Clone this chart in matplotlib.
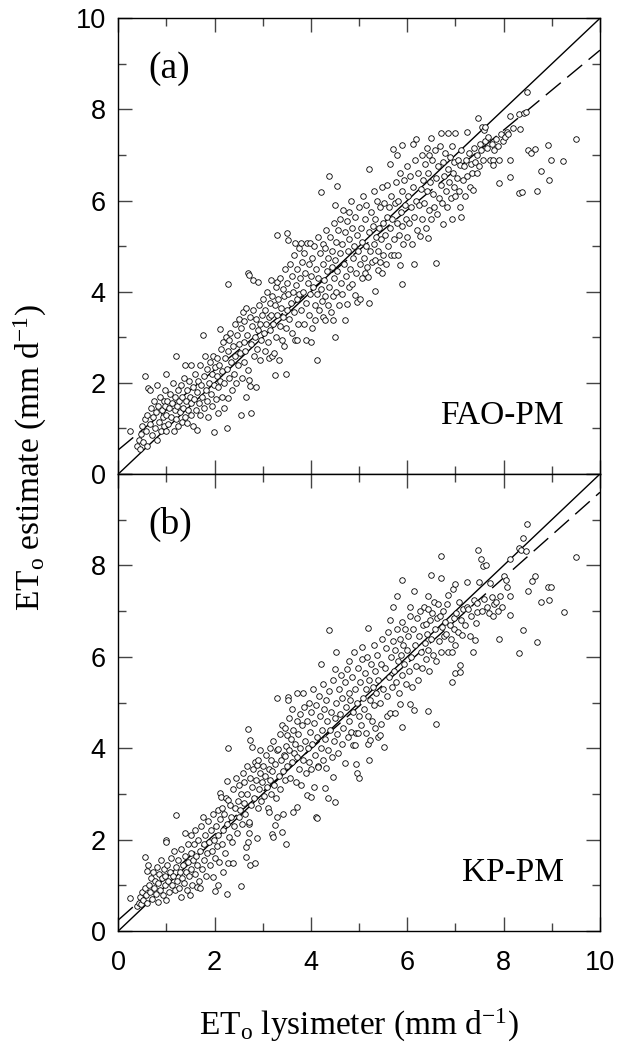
import numpy as np
import matplotlib.pyplot as plt
from matplotlib.ticker import MultipleLocator

plt.rcParams['font.family'] = 'Liberation Sans'
plt.rcParams['mathtext.fontset'] = 'custom'
plt.rcParams['mathtext.rm'] = 'Liberation Serif'
plt.rcParams['mathtext.it'] = 'Liberation Serif:italic'

# (lysimeter, estimate) pairs
fao_pts = [
    (0.24,0.95),(0.38,0.62),(0.42,0.75),(0.45,0.55),(0.48,0.88),(0.5,1.05),(0.52,0.7),(0.55,1.2),(0.56,2.15),(0.58,0.95),(0.6,1.3),(0.6,0.62),
    (0.62,1.88),(0.66,1.84),(0.65,1.1),(0.68,1.45),(0.7,0.85),(0.72,1.25),(0.75,1.6),(0.76,1.0),(0.78,1.35),(0.8,1.95),(0.8,0.75),(0.82,1.5),
    (0.85,1.15),(0.86,1.7),(0.88,0.95),(0.9,1.4),(0.92,1.25),(0.94,1.6),(0.95,1.05),(0.98,1.85),(0.99,0.94),(1.0,2.2),(1.0,1.3),(0.97,1.5),
    (1.02,1.6),(1.04,1.1),(1.06,1.45),(1.08,1.75),(1.1,1.25),(1.12,1.55),(1.14,2.0),(1.15,0.95),(1.17,1.4),(1.18,1.7),(1.2,2.58),(1.2,1.2),
    (1.22,1.5),(1.24,1.85),(1.25,1.05),(1.27,1.6),(1.28,1.35),(1.3,1.95),(1.32,1.15),(1.33,1.7),(1.35,1.45),(1.36,2.1),(1.38,2.4),(1.38,1.25),
    (1.4,1.6),(1.42,1.85),(1.43,1.12),(1.45,1.4),(1.47,2.05),(1.48,1.7),(1.5,1.3),(1.52,2.4),(1.52,1.55),
    (1.55,1.9),(1.56,1.05),(1.58,1.65),(1.6,2.2),(1.62,1.4),(1.63,0.97),(1.64,1.8),(1.66,2.05),(1.68,1.55),(1.7,2.4),(1.7,1.3),(1.72,1.95),
    (1.74,1.7),(1.76,3.04),(1.78,2.15),(1.78,1.45),(1.8,2.6),(1.82,1.85),(1.84,2.3),(1.85,1.6),(1.86,1.25),(1.88,2.0),(1.9,2.45),(1.92,1.75),
    (1.94,2.2),(1.95,1.5),(1.97,2.6),(1.99,0.92),(1.98,1.95),(2.0,2.35),
    (2.02,1.65),(2.04,2.15),(2.05,2.55),(2.07,1.33),(2.08,1.9),(2.1,2.4),(2.11,3.19),(2.12,2.05),(2.14,2.75),(2.15,1.7),(2.16,2.25),(2.18,2.9),
    (2.2,2.0),(2.2,1.45),(2.22,2.55),(2.24,3.0),(2.25,1.0),(2.25,2.3),(2.27,1.66),(2.28,4.18),(2.28,2.7),(2.3,2.93),(2.3,2.1),(2.32,3.1),
    (2.34,2.45),(2.36,1.85),(2.38,2.8),(2.4,2.2),(2.42,3.3),(2.42,2.6),(2.44,2.0),(2.46,3.05),(2.48,2.4),(2.5,2.85),(2.54,1.3),(2.5,3.4),
    (2.52,2.65),(2.55,3.2),(2.56,2.1),(2.58,3.55),(2.6,2.9),(2.6,2.45),(2.62,3.35),(2.64,2.7),(2.65,3.65),(2.66,1.69),(2.68,3.05),(2.7,4.4),
    (2.72,4.36),(2.7,2.28),(2.72,2.06),(2.74,1.93),(2.75,1.33),(2.74,3.45),(2.76,2.85),(2.78,3.25),(2.8,4.25),(2.8,3.6),(2.82,2.6),(2.84,3.0),
    (2.85,1.9),(2.86,3.4),(2.88,2.75),(2.9,4.22),(2.9,3.15),(2.92,3.7),(2.94,2.5),(2.95,3.3),(2.97,2.95),(2.99,3.5),
    (3.0,3.85),(3.02,3.1),(3.04,2.7),(3.05,3.6),(3.07,3.3),(3.08,4.0),(3.1,2.9),(3.12,3.45),(3.12,2.55),(3.14,3.75),(3.15,3.15),(3.17,4.25),
    (3.18,3.5),(3.2,2.6),(3.2,3.9),(3.22,3.3),(3.24,2.65),(3.25,2.17),(3.25,3.7),(3.27,4.1),(3.28,3.0),(3.29,5.24),(3.3,4.22),(3.3,3.5),
    (3.32,3.85),(3.34,2.5),(3.35,3.25),(3.36,4.3),(3.38,3.65),(3.4,2.95),(3.41,4.05),(3.43,3.45),(3.45,2.8),(3.45,3.9),(3.47,4.5),(3.48,2.19),
    (3.48,3.2),(3.5,5.28),(3.5,4.2),(3.5,3.6),
    (3.53,5.13),(3.53,3.95),(3.55,3.4),(3.56,4.6),(3.58,3.75),(3.6,4.35),(3.6,3.1),(3.62,4.0),(3.64,4.8),(3.65,3.55),(3.66,2.94),(3.67,5.06),
    (3.68,4.15),(3.7,3.85),(3.72,4.5),(3.72,2.94),(3.74,3.3),(3.75,4.95),(3.76,3.95),(3.78,4.3),(3.8,5.06),(3.8,3.6),(3.82,4.65),(3.84,4.0),
    (3.85,3.3),(3.86,4.85),(3.88,4.4),(3.9,3.75),(3.9,2.94),(3.92,5.06),(3.93,4.2),(3.95,3.5),(3.96,4.6),(3.98,5.06),(3.98,3.95),(4.0,2.9),(4.0,4.35),
    (4.02,3.2),(4.03,4.75),(4.05,4.1),(4.07,5.0),(4.08,3.39),(4.08,3.7),(4.1,4.5),(4.12,2.5),(4.12,3.95),(4.14,5.2),(4.15,4.3),(4.17,3.6),
    (4.18,4.85),(4.2,6.19),(4.2,4.05),(4.22,3.8),(4.24,4.6),(4.25,5.05),(4.26,3.45),(4.28,4.25),(4.29,3.39),(4.3,4.95),(4.3,3.9),(4.32,5.35),
    (4.34,4.45),(4.35,3.7),(4.36,4.75),(4.38,6.53),(4.38,4.1),(4.4,5.2),(4.41,3.55),(4.43,4.55),(4.44,4.9),(4.45,3.9),(4.46,3.39),(4.47,5.5),
    (4.48,4.3),(4.5,5.9),(4.5,3.01),(4.5,4.7),
    (4.52,5.1),(4.53,4.0),(4.54,6.32),(4.55,4.45),(4.57,5.35),(4.58,3.7),(4.6,4.85),(4.6,5.6),(4.62,4.2),(4.64,5.05),(4.65,3.95),(4.66,5.8),
    (4.68,4.6),(4.7,5.3),(4.71,3.38),(4.72,4.35),(4.74,3.74),(4.75,5.55),(4.76,4.9),(4.78,4.1),(4.8,5.75),(4.8,5.15),(4.82,4.5),(4.84,6.0),
    (4.85,4.18),(4.86,5.4),(4.88,4.75),(4.9,5.0),(4.92,3.93),(4.92,5.65),(4.94,4.4),(4.95,3.78),(4.96,5.25),(4.98,4.9),(5.0,5.85),(5.02,3.85),(5.02,4.6),
    (5.04,5.4),(5.05,4.3),(5.07,5.1),(5.08,6.1),(5.1,4.75),(5.12,4.4),(5.12,5.6),(5.14,5.0),(5.15,5.9),(5.17,4.55),(5.19,4.33),(5.2,6.69),
    (5.2,5.3),(5.21,3.76),(5.22,4.9),(5.24,5.75),(5.26,4.66),(5.28,5.45),(5.3,6.2),(5.3,5.05),(5.32,4.7),(5.33,4.02),(5.34,5.6),(5.36,5.2),
    (5.38,6.0),(5.4,4.47),(5.4,4.9),(5.42,5.4),(5.43,4.66),(5.44,5.85),(5.46,5.15),(5.47,4.41),(5.48,6.3),(5.5,5.5),(5.5,4.8),
    (5.52,5.95),(5.54,5.25),(5.55,4.6),(5.57,5.65),(5.58,6.35),(5.6,5.0),(5.62,5.85),(5.64,6.81),(5.64,5.4),(5.66,4.8),(5.67,6.1),(5.69,5.6),
    (5.71,7.14),(5.72,4.8),(5.72,5.15),(5.74,5.95),(5.76,6.4),(5.78,7.0),(5.78,5.5),(5.8,4.8),(5.8,6.0),(5.82,5.25),(5.84,6.6),(5.85,4.58),
    (5.86,5.75),(5.88,7.21),(5.88,4.18),(5.9,6.2),(5.9,5.45),(5.92,5.05),(5.94,6.45),(5.96,5.9),(5.98,5.6),(6.0,6.75),(6.0,5.2),
    (6.02,6.1),(6.04,5.5),(6.06,6.55),(6.08,5.85),(6.1,5.05),(6.12,7.25),(6.12,6.3),(6.13,4.6),(6.14,5.65),(6.16,6.9),(6.18,6.0),(6.19,7.36),
    (6.2,5.35),(6.22,6.6),(6.24,5.9),(6.26,5.23),(6.28,6.25),(6.3,7.0),(6.3,5.6),(6.32,6.45),(6.34,5.95),(6.36,6.8),(6.38,5.4),(6.4,7.15),
    (6.4,6.2),(6.42,6.6),(6.43,5.17),(6.45,5.8),(6.46,7.0),(6.48,6.4),(6.49,7.38),(6.5,5.6),
    (6.52,6.9),(6.54,6.15),(6.56,5.85),(6.58,7.1),(6.59,4.63),(6.6,6.5),(6.62,5.7),(6.64,6.75),(6.66,6.05),(6.67,7.2),(6.69,7.48),(6.7,6.35),
    (6.72,5.95),(6.74,6.85),(6.75,5.48),(6.76,6.55),(6.78,7.05),(6.8,6.2),(6.82,5.85),(6.84,6.7),(6.85,7.49),(6.86,6.4),(6.88,6.95),(6.9,6.05),
    (6.92,7.2),(6.93,5.59),(6.94,6.6),(6.96,6.3),(6.98,6.85),(7.0,7.49),(7.0,6.1),
    (7.03,6.5),(7.05,6.9),(7.08,6.2),(7.09,6.78),(7.1,5.86),(7.12,5.64),(7.12,7.1),(7.15,6.45),(7.18,6.75),(7.2,6.1),(7.23,7.5),(7.22,6.9),
    (7.25,6.55),(7.28,7.05),(7.3,6.3),(7.32,6.8),(7.35,6.6),(7.36,6.23),(7.38,7.15),(7.4,6.85),(7.44,6.6),(7.44,7.0),(7.46,7.82),(7.48,6.75),(7.5,7.25),
    (7.52,7.1),(7.55,7.62),(7.58,6.9),(7.6,7.54),(7.61,7.62),(7.62,7.3),(7.65,7.15),(7.68,7.4),(7.72,6.89),(7.75,7.25),(7.77,6.89),(7.78,6.78),
    (7.8,7.1),(7.85,7.35),(7.88,7.2),(7.91,6.9),(7.91,6.39),(7.95,7.45),(7.98,7.3),
    (8.02,7.4),(8.06,7.5),(8.1,7.45),(8.13,7.85),(8.14,6.52),(8.14,6.89),(8.2,7.6),(8.32,7.9),(8.32,6.16),(8.34,7.57),(8.39,6.18),(8.42,7.93),
    (8.46,7.95),(8.49,8.38),(8.5,7.12),(8.56,7.04),(8.66,7.14),(8.7,6.2),(8.77,6.65),(8.93,7.22),(8.94,6.45),(8.98,6.9),(9.24,6.87),(9.5,7.36),
]

kp_pts = [
    (0.24,0.73),(0.38,0.55),(0.42,0.62),(0.45,0.75),(0.48,0.58),(0.5,0.85),(0.52,0.68),(0.55,1.63),(0.56,0.95),(0.58,0.78),(0.59,1.32),(0.6,0.62),
    (0.62,1.44),(0.64,1.0),(0.66,0.85),(0.68,1.15),(0.7,0.7),(0.72,1.3),(0.74,0.95),(0.76,1.1),(0.78,0.82),(0.8,1.4),(0.82,1.05),(0.83,0.64),
    (0.85,1.25),(0.87,0.9),(0.89,1.55),(0.9,1.15),(0.92,0.78),(0.94,1.35),(0.96,1.0),(0.98,1.2),(1.0,1.99),(1.0,1.95),(1.0,0.68),
    (1.02,1.45),(1.04,1.1),(1.06,0.85),(1.08,1.3),(1.1,1.6),(1.12,1.0),(1.14,1.2),(1.16,1.75),(1.18,0.9),(1.2,2.54),(1.2,1.4),(1.22,1.1),
    (1.24,1.55),(1.26,0.95),(1.28,1.3),(1.3,1.8),(1.31,0.75),(1.32,1.15),(1.34,1.45),(1.36,1.05),(1.38,2.14),(1.38,1.65),(1.4,1.3),(1.42,0.9),
    (1.44,1.9),(1.45,1.5),(1.47,1.2),(1.49,0.79),(1.5,1.7),(1.52,2.1),(1.52,1.35),
    (1.54,1.0),(1.55,1.55),(1.57,1.9),(1.59,1.25),(1.6,2.2),(1.62,1.65),(1.63,0.96),(1.64,1.45),(1.66,2.0),(1.68,1.1),(1.7,0.93),(1.7,1.75),
    (1.72,2.3),(1.74,1.35),(1.76,2.5),(1.77,1.9),(1.78,1.55),(1.8,2.1),(1.82,1.2),(1.84,1.7),(1.86,2.4),(1.88,1.95),(1.9,1.45),(1.92,2.2),
    (1.94,1.75),(1.96,2.55),(1.97,1.19),(1.98,2.0),(2.0,0.88),(2.0,1.6),
    (2.02,2.3),(2.04,1.85),(2.06,2.65),(2.08,1.01),(2.08,2.1),(2.1,1.5),(2.11,3.01),(2.12,2.45),(2.14,2.94),(2.15,1.9),(2.16,2.7),(2.18,1.3),
    (2.18,2.2),(2.2,2.55),(2.22,1.7),(2.24,2.9),(2.25,0.8),(2.25,3.29),(2.26,2.35),(2.28,4.0),(2.28,2.87),(2.28,1.49),(2.3,2.05),(2.32,2.76),
    (2.34,2.5),(2.36,1.95),(2.38,3.1),(2.39,1.49),(2.4,2.3),(2.42,2.7),(2.44,3.35),(2.46,2.15),(2.48,2.85),(2.5,2.5),(2.5,3.2),
    (2.52,2.65),(2.54,0.99),(2.55,3.0),(2.56,2.35),(2.58,3.45),(2.6,2.8),(2.62,3.25),(2.64,2.55),(2.66,1.63),(2.66,1.84),(2.67,3.6),(2.68,3.0),
    (2.7,4.41),(2.7,1.95),(2.71,2.15),(2.71,2.34),(2.72,2.39),(2.73,4.18),(2.73,1.44),(2.74,3.35),(2.76,2.75),(2.77,4.03),(2.78,3.15),(2.8,3.55),
    (2.82,2.9),(2.84,1.48),(2.84,3.7),(2.86,3.3),(2.87,2.03),(2.88,3.63),(2.9,3.74),(2.9,2.7),(2.92,3.1),(2.94,3.96),(2.95,3.45),(2.97,2.85),(2.99,3.25),
    (3.0,3.6),(3.02,2.95),(3.04,3.4),(3.06,3.85),(3.08,3.15),(3.1,2.7),(3.12,2.6),(3.12,3.55),(3.14,4.0),(3.15,3.3),(3.17,3.75),(3.18,3.0),
    (3.19,2.13),(3.2,3.5),(3.22,2.06),(3.22,4.15),(3.24,3.2),(3.25,2.32),(3.26,3.65),(3.28,2.9),(3.3,5.09),(3.3,3.95),(3.3,2.5),(3.32,3.98),
    (3.33,3.4),(3.35,4.3),(3.36,3.1),(3.38,3.75),(3.39,2.17),(3.4,4.5),(3.41,3.5),(3.42,2.55),(3.44,3.85),(3.46,4.44),(3.46,3.84),(3.47,3.3),
    (3.48,1.9),(3.48,4.05),(3.5,4.29),(3.5,3.6),
    (3.52,5.13),(3.53,5.05),(3.54,3.95),(3.55,4.65),(3.56,3.35),(3.58,4.2),(3.6,3.7),(3.61,4.85),(3.62,4.4),(3.63,2.61),(3.64,3.9),(3.66,4.1),
    (3.68,3.25),(3.7,4.6),(3.71,5.2),(3.72,2.72),(3.72,3.8),(3.74,4.3),(3.76,3.55),(3.78,4.75),(3.78,4.0),(3.8,3.2),(3.82,4.5),(3.83,5.21),
    (3.84,3.75),(3.86,4.9),(3.88,4.15),(3.9,3.45),(3.91,2.97),(3.92,4.6),(3.94,4.0),(3.96,5.0),(3.96,3.7),(3.98,4.35),(4.0,2.93),(4.0,3.54),(4.0,4.8),
    (4.02,4.1),(4.04,5.3),(4.06,3.14),(4.06,4.55),(4.08,3.85),(4.1,2.5),(4.1,4.95),(4.12,4.25),(4.13,2.48),(4.14,3.6),(4.15,3.58),(4.16,5.15),
    (4.18,4.7),(4.2,5.85),(4.2,4.0),(4.22,4.4),(4.24,3.75),(4.26,5.4),(4.28,4.85),(4.29,3.12),(4.3,4.2),(4.32,3.56),(4.32,5.05),(4.34,4.6),
    (4.35,2.92),(4.36,3.95),(4.38,6.59),(4.38,5.25),(4.4,4.4),(4.42,4.8),(4.44,3.8),(4.46,3.38),(4.46,5.5),(4.48,4.15),(4.5,2.83),(4.5,5.73),(4.5,4.65),
    (4.52,5.0),(4.53,6.1),(4.54,4.3),(4.56,3.9),(4.58,5.3),(4.6,4.75),(4.62,5.6),(4.64,4.1),(4.65,5.1),(4.67,4.45),(4.7,5.45),(4.71,3.67),
    (4.72,4.9),(4.74,5.73),(4.76,4.25),(4.78,5.2),(4.8,4.6),(4.8,5.9),(4.82,5.05),(4.84,4.35),(4.86,5.55),(4.88,4.06),(4.88,4.8),(4.9,6.1),
    (4.91,4.07),(4.92,5.3),(4.93,4.33),(4.93,3.65),(4.95,3.45),(4.96,5.0),(4.98,4.34),(4.98,5.75),(5.0,3.34),(5.0,4.7),
    (5.02,5.45),(5.04,4.5),(5.06,5.95),(5.07,6.21),(5.08,5.1),(5.1,4.85),(5.12,5.65),(5.14,4.33),(5.15,5.3),(5.16,6.0),(5.18,4.7),(5.19,4.1),
    (5.19,6.64),(5.2,5.5),(5.21,3.74),(5.22,4.19),(5.22,5.05),(5.24,5.85),(5.26,4.6),(5.28,5.35),(5.3,6.25),(5.3,4.95),(5.32,5.7),(5.34,4.45),
    (5.36,5.2),(5.38,6.05),(5.4,4.24),(5.4,5.5),(5.43,4.29),(5.44,5.0),(5.45,4.52),(5.46,5.85),(5.48,6.4),(5.5,5.3),(5.52,4.03),
    (5.54,5.75),(5.56,6.2),(5.57,4.7),(5.58,5.15),(5.6,6.55),(5.62,5.55),(5.64,4.78),(5.64,6.8),(5.66,6.0),(5.68,5.35),(5.7,6.35),(5.71,7.08),
    (5.72,5.7),(5.74,4.76),(5.75,6.15),(5.76,5.45),(5.78,6.6),(5.79,7.32),(5.8,5.9),(5.82,5.2),(5.84,6.4),(5.85,4.96),(5.86,6.05),(5.88,7.69),
    (5.88,6.77),(5.88,4.47),(5.9,5.6),(5.92,6.25),(5.94,5.85),(5.96,6.6),(5.98,5.4),(6.0,6.15),
    (6.02,6.45),(6.04,5.7),(6.06,6.9),(6.06,7.1),(6.06,4.96),(6.08,6.0),(6.1,5.35),(6.12,6.6),(6.14,7.45),(6.14,4.83),(6.16,6.25),(6.18,5.8),
    (6.2,6.85),(6.22,5.5),(6.24,6.45),(6.26,7.0),(6.28,6.1),(6.3,5.75),(6.32,6.7),(6.34,7.1),(6.36,6.3),(6.38,5.95),(6.39,6.72),(6.4,6.5),
    (6.42,7.05),(6.43,7.33),(6.44,4.81),(6.44,6.15),(6.46,5.7),(6.48,6.8),(6.49,7.79),(6.5,6.4),
    (6.52,6.95),(6.54,6.05),(6.56,7.2),(6.58,6.6),(6.59,4.52),(6.6,5.9),(6.62,6.85),(6.64,7.15),(6.66,6.35),(6.68,6.89),(6.69,7.73),(6.69,8.21),
    (6.7,6.1),(6.72,6.65),(6.74,7.0),(6.76,6.45),(6.78,6.77),(6.8,6.5),(6.82,7.15),(6.84,6.1),(6.85,7.35),(6.88,6.7),(6.9,6.4),(6.92,6.1),
    (6.93,5.44),(6.94,7.49),(6.96,6.85),(6.98,6.6),(6.99,5.64),(7.0,7.59),(7.0,6.25),
    (7.02,6.95),(7.05,6.55),(7.08,7.2),(7.09,5.83),(7.1,5.66),(7.12,6.8),(7.14,6.47),(7.16,7.05),(7.2,6.7),(7.23,7.63),(7.25,7.1),(7.27,7.04),
    (7.3,6.46),(7.32,6.9),(7.36,6.1),(7.38,7.25),(7.4,6.37),(7.42,6.75),(7.44,7.18),(7.44,6.97),(7.46,8.34),(7.49,7.64),
    (7.54,8.15),(7.55,7.0),(7.58,7.99),(7.6,7.27),(7.63,8.0),(7.65,7.1),(7.7,6.95),(7.72,7.62),(7.75,7.3),(7.78,6.9),(7.8,7.15),(7.85,7.2),
    (7.88,7.0),(7.91,6.38),(7.93,7.32),(7.96,7.1),
    (8.0,7.76),(8.05,7.68),(8.08,7.53),(8.13,7.34),(8.13,8.14),(8.13,6.91),(8.32,8.37),(8.32,6.09),(8.37,8.33),(8.41,8.59),(8.41,6.59),(8.46,8.31),
    (8.49,8.9),(8.5,7.45),(8.58,7.65),(8.66,7.76),(8.7,6.32),(8.77,7.21),(8.93,7.53),(8.95,7.24),(8.98,7.53),(9.25,6.99),(9.5,8.19),
]

# regression lines (intercept, slope) as drawn
fao_fit = (0.53, 0.877)
kp_fit = (0.24, 0.936)

panel_tags = ['(a)', '(b)']
method_names = ['FAO-PM', 'KP-PM']

serif = 'Liberation Serif'

fig = plt.figure(figsize=(6.18, 10.45), dpi=100)
ax_a = fig.add_axes([0.1914, 0.5464, 0.7794, 0.4361])
ax_b = fig.add_axes([0.1914, 0.1091, 0.7794, 0.4373])

for ax, pts, fit, tag, name in zip([ax_a, ax_b], [fao_pts, kp_pts], [fao_fit, kp_fit],
                                    panel_tags, method_names):
    p = np.array(pts)
    xx = np.array([0, 10])
    ax.plot(xx, xx, color='black', lw=1.0, zorder=1)
    ax.plot(xx, fit[0] + fit[1] * xx, color='black', lw=1.0, dashes=(14, 6), zorder=1)
    ax.plot(p[:, 0], p[:, 1], 'o', ms=4.0, mfc='white', mec='black', mew=0.6, zorder=2)
    ax.set_xlim(0, 10)
    ax.set_ylim(0, 10)
    ax.xaxis.set_major_locator(MultipleLocator(2))
    ax.xaxis.set_minor_locator(MultipleLocator(1))
    ax.yaxis.set_major_locator(MultipleLocator(2))
    ax.yaxis.set_minor_locator(MultipleLocator(1))
    ax.tick_params(which='both', direction='in', top=True, right=True, color='#444', width=1.0)
    ax.tick_params(which='major', length=10, labelsize=19.5)
    ax.tick_params(which='minor', length=5.5)
    ax.tick_params(axis='y', pad=9)
    ax.tick_params(axis='x', pad=14)
    for s in ax.spines.values():
        s.set_linewidth(1.0)
    ax.text(0.62, 8.9, tag, fontsize=27, family=serif, va='center', ha='left')
    ax.text(9.25, 1.1, name, fontsize=24, family=serif, va='baseline', ha='right')

ax_a.tick_params(axis='x', labelbottom=False)
ax_b.set_yticks([0, 2, 4, 6, 8, 10], ['0', '2', '4', '6', '8', ''])

ax_b.set_xlabel(r'ET$_\mathrm{o}$ lysimeter (mm d$^{-1}$)', fontsize=24, family=serif, labelpad=22)
fig.text(0.05, 0.562, r'ET$_\mathrm{o}$ estimate (mm d$^{-1}$)', fontsize=24, family=serif,
         rotation=90, ha='center', va='center')

fig.savefig('out.png', dpi=100)
